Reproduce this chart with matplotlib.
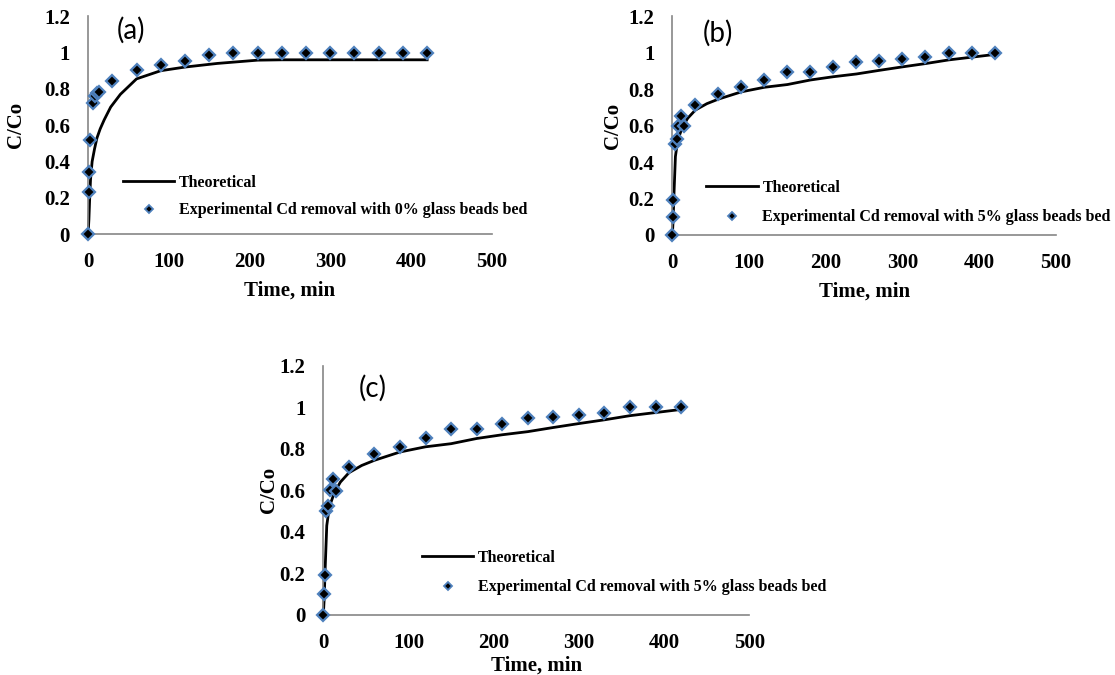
import matplotlib
matplotlib.use("Agg")
import matplotlib.pyplot as plt

# panel (a): 0% glass beads
t_exp_a = [0, 0.8, 1.2, 2, 6, 9, 11, 14, 30, 60, 90, 120, 150, 180, 210, 240, 270, 300, 330, 360, 390, 420]
c_exp_a = [0, 0.23, 0.34, 0.52, 0.72, 0.76, 0.775, 0.785, 0.845, 0.905, 0.93, 0.955, 0.985, 1.0, 1.0, 1.0, 1.0, 1.0, 1.0, 1.0, 1.0, 1.0]
t_th_a = [0, 1, 2, 3, 5, 8, 11, 15, 20, 28, 40, 60, 90, 120, 160, 210, 240, 300, 360, 420]
c_th_a = [0, 0.08, 0.2, 0.3, 0.4, 0.47, 0.53, 0.58, 0.63, 0.7, 0.77, 0.855, 0.9, 0.92, 0.94, 0.958, 0.96, 0.96, 0.96, 0.96]

# panels (b) and (c): 5% glass beads
t_exp_b = [0, 1.3, 1.5, 3, 5.6, 7.4, 11.7, 15, 30, 60, 90, 120, 150, 180, 210, 240, 270, 300, 330, 360, 390, 420]
c_exp_b = [0, 0.10, 0.19, 0.50, 0.525, 0.60, 0.655, 0.595, 0.715, 0.775, 0.81, 0.85, 0.895, 0.895, 0.92, 0.95, 0.955, 0.965, 0.975, 1.0, 1.0, 1.0]
t_th_b = [0, 1, 2, 4, 7, 13, 20, 30, 45, 60, 90, 120, 150, 180, 210, 240, 270, 300, 330, 360, 390, 420]
c_th_b = [0, 0.08, 0.21, 0.43, 0.52, 0.59, 0.64, 0.685, 0.72, 0.745, 0.785, 0.81, 0.825, 0.85, 0.868, 0.883, 0.903, 0.922, 0.94, 0.96, 0.975, 0.99]

x_ticks = [0, 100, 200, 300, 400, 500]
y_ticks = [0, 0.2, 0.4, 0.6, 0.8, 1.0, 1.2]
y_labels = ['0', '0.2', '0.4', '0.6', '0.8', '1', '1.2']

serif = 'Liberation Serif'
spine_col = '#868686'
edge_col = '#4F81BD'

fig = plt.figure(figsize=(11.15, 6.75), dpi=100)


def panel(rect, t_th, c_th, t_exp, c_exp, tag, tag_xy, exp_label, leg_anchor, leg_space,
          xlabelpad, ylabelpad):
    ax = fig.add_axes(rect)
    ax.plot(t_th, c_th, color='black', lw=2, label='Theoretical', clip_on=False)
    ax.plot(t_exp, c_exp, ls='none', marker='D', ms=6.5, mfc='black', mec=edge_col, mew=1.6,
            label=exp_label, clip_on=False, zorder=3)
    ax.set_xlim(0, 500)
    ax.set_ylim(0, 1.2)
    ax.set_xticks(x_ticks)
    ax.set_yticks(y_ticks)
    ax.set_yticklabels(y_labels)
    for s in ['top', 'right']:
        ax.spines[s].set_visible(False)
    for s in ['left', 'bottom']:
        ax.spines[s].set_color(spine_col)
        ax.spines[s].set_linewidth(1.2)
    ax.tick_params(length=0, pad=13)
    for lb in ax.get_xticklabels() + ax.get_yticklabels():
        lb.set_fontfamily(serif)
        lb.set_fontweight('bold')
        lb.set_fontsize(15)
    ax.set_xlabel('Time, min', family=serif, weight='bold', fontsize=15, labelpad=xlabelpad)
    ax.set_ylabel('C/Co', family=serif, weight='bold', fontsize=15, labelpad=ylabelpad)
    ax.text(tag_xy[0], tag_xy[1], tag, family='Lato', fontsize=20, va='center', ha='left')
    leg = ax.legend(loc='upper left', bbox_to_anchor=leg_anchor, frameon=False, borderaxespad=0,
                    borderpad=0, handlelength=3.2, handletextpad=0.3, labelspacing=leg_space,
                    prop={'family': serif, 'weight': 'bold', 'size': 11.5})
    mk = leg.legend_handles[1]
    mk.set_markersize(4.5)
    mk.set_markeredgewidth(1.3)
    return ax


panel([0.079, 0.653, 0.362, 0.323], t_th_a, c_th_a, t_exp_a, c_exp_a, '(a)', (36, 1.12),
      'Experimental Cd removal with 0% glass beads bed', (0.087, 0.272), 0.7, 6, 13)
panel([0.603, 0.652, 0.344, 0.324], t_th_b, c_th_b, t_exp_b, c_exp_b, '(b)', (40, 1.107),
      'Experimental Cd removal with 5% glass beads bed', (0.089, 0.252), 0.85, 6, 4)
panel([0.290, 0.089, 0.382, 0.369], t_th_b, c_th_b, t_exp_b, c_exp_b, '(c)', (41, 1.094),
      'Experimental Cd removal with 5% glass beads bed', (0.232, 0.262), 0.85, 2, 0)

fig.savefig('out.png', dpi=100)
